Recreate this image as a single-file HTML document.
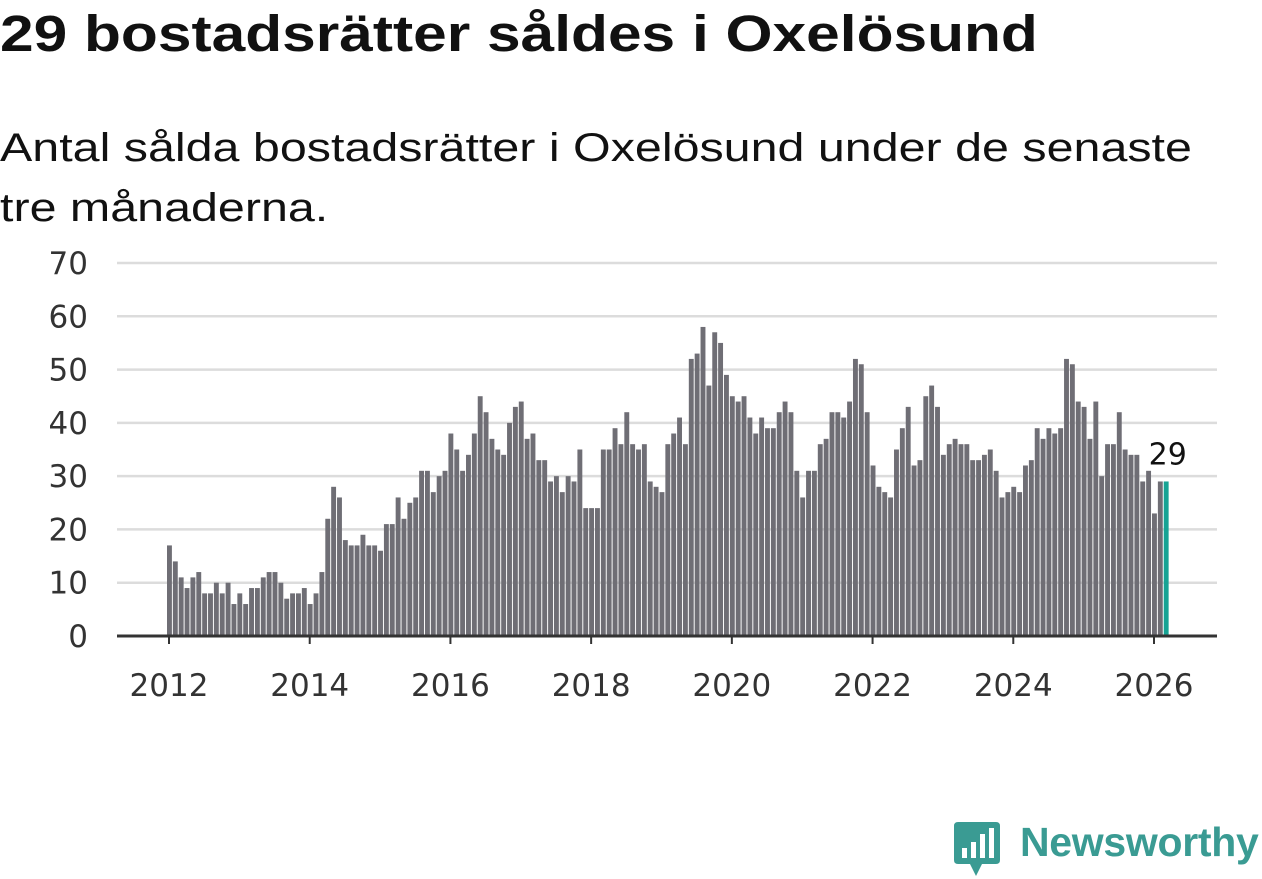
<!DOCTYPE html>
<html><head><meta charset="utf-8">
<style>
body{margin:0;background:#fff;font-family:"Liberation Sans","DejaVu Sans",sans-serif;}
#wrap{position:relative;width:1262px;height:879px;overflow:hidden;}
h1{position:absolute;left:0;top:4px;margin:0;font-size:51px;font-weight:bold;color:#111;white-space:nowrap;transform:scaleX(1.185);transform-origin:0 0;}
.sub{position:absolute;left:0;top:118px;margin:0;font-size:40px;line-height:60px;color:#111;white-space:nowrap;transform:scaleX(1.21);transform-origin:0 0;}
</style></head><body>
<div id="wrap">
<h1>29 bostadsrätter såldes i Oxelösund</h1>
<p class="sub">Antal sålda bostadsrätter i Oxelösund under de senaste<br>tre månaderna.</p>
<svg id="chart" width="1262" height="879" style="position:absolute;left:0;top:0"></svg>
<div style="position:absolute;left:952px;top:820px;width:310px;height:60px;">
<svg width="50" height="58" style="position:absolute;left:0;top:0">
<path d="M6 2 H44 Q48 2 48 6 V40 Q48 44 44 44 H30 L24 56 L18 44 H6 Q2 44 2 40 V6 Q2 2 6 2 Z" fill="#3a9b93"/>
<rect x="10" y="28" width="5" height="10" fill="#fff"/><rect x="19" y="22" width="5" height="16" fill="#fff"/><rect x="28" y="14" width="5" height="24" fill="#fff"/><rect x="37" y="8" width="5" height="30" fill="#fff"/>
</svg>
<span style="position:absolute;left:68px;top:-1px;font-size:41px;color:#3a9b93;font-weight:bold;letter-spacing:-0.3px">Newsworthy</span>
</div>
</div>
<script>
const startYear = 2012;
const values = [
17,14,11,9,11,12,8,8,10,8,10,6,
8,6,9,9,11,12,12,10,7,8,8,9,
6,8,12,22,28,26,18,17,17,19,17,17,
16,21,21,26,22,25,26,31,31,27,30,31,
38,35,31,34,38,45,42,37,35,34,40,43,
44,37,38,33,33,29,30,27,30,29,35,24,
24,24,35,35,39,36,42,36,35,36,29,28,
27,36,38,41,36,52,53,58,47,57,55,49,
45,44,45,41,38,41,39,39,42,44,42,31,
26,31,31,36,37,42,42,41,44,52,51,42,
32,28,27,26,35,39,43,32,33,45,47,43,
34,36,37,36,36,33,33,34,35,31,26,27,
28,27,32,33,39,37,39,38,39,52,51,44,
43,37,44,30,36,36,42,35,34,34,29,31,
23,29,29];
const yTicks = [0,10,20,30,40,50,60,70];
const xTicks = [2012,2014,2016,2018,2020,2022,2024,2026];
const NS="http://www.w3.org/2000/svg";
const svg=document.getElementById('chart');
const y0=636, yPer=(636-263)/70;
const x0=169, xPerMonth=(1154-169)/(14*12);
const yS=v=>y0-v*yPer;
const xS=m=>x0+m*xPerMonth;
const FF='DejaVu Sans, sans-serif';
function mk(t,a){const e=document.createElementNS(NS,t);for(const k in a)e.setAttribute(k,a[k]);svg.appendChild(e);return e;}
yTicks.forEach(t=>{
  if(t>0){const g=mk('line',{x1:117,x2:1217,y1:yS(t),y2:yS(t),stroke:'#dcdcdc','stroke-width':2.5});
  
  }
  const l=mk('text',{x:88,y:yS(t)+11,'text-anchor':'end','font-size':31,fill:'#333','font-family':FF});
  l.textContent=t;
  
  
});
values.forEach((v,i)=>{
  const last=i===values.length-1;
  const r=mk('rect',{x:xS(i)-2,y:yS(v),width:4.9,height:v*yPer,fill:last?'#16a394':'#6f6e75'});
  
  
  if(last){const t=mk('text',{x:xS(i)+2,y:yS(v)-17,'text-anchor':'middle','font-size':30,fill:'#111','font-family':FF});
  t.textContent=v;
  
  }
});
const ax=mk('line',{x1:117,x2:1217,y1:y0,y2:y0,stroke:'#333','stroke-width':3});


xTicks.forEach(yr=>{
  const x=xS((yr-startYear)*12);
  const tk=mk('line',{x1:x,x2:x,y1:y0,y2:y0+8,stroke:'#333','stroke-width':2});
  
  
  const l=mk('text',{x:x,y:696,'text-anchor':'middle','font-size':31,fill:'#333','font-family':FF});
  l.textContent=yr;
  
  
});
</script>
</body></html>
